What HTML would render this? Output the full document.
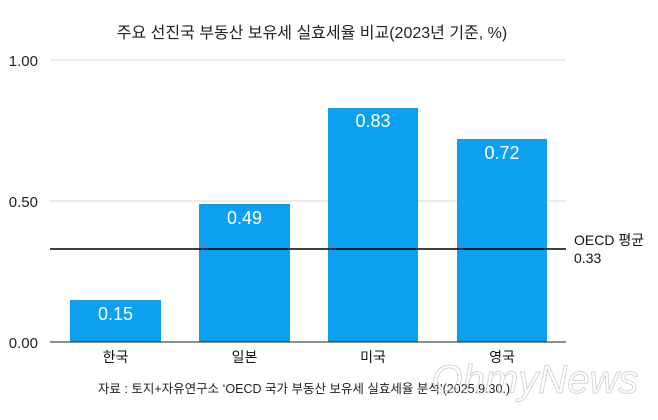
<!DOCTYPE html>
<html><head><meta charset="utf-8"><style>
body{margin:0;background:#fff;}
svg text{font-family:"Liberation Sans","Noto Sans CJK KR",sans-serif;}
</style></head><body>
<svg width="658" height="415" xmlns="http://www.w3.org/2000/svg">
<rect width="658" height="415" fill="#fff"/>
<text x="312" y="38" font-size="16" text-anchor="middle" fill="#222">주요 선진국 부동산 보유세 실효세율 비교(2023년 기준, %)</text>
<line x1="50" y1="60" x2="566" y2="60" stroke="#d8d8d8" stroke-width="1"/>
<line x1="50" y1="201" x2="566" y2="201" stroke="#d8d8d8" stroke-width="1"/>
<text x="38" y="66" font-size="15" text-anchor="end" fill="#222">1.00</text>
<text x="38" y="207" font-size="15" text-anchor="end" fill="#222">0.50</text>
<text x="38" y="348" font-size="15" text-anchor="end" fill="#222">0.00</text>
<g fill="#0d9ff0">
<rect x="70" y="300" width="91" height="42"/>
<rect x="199" y="204" width="91" height="138"/>
<rect x="328" y="108" width="90" height="234"/>
<rect x="457" y="139" width="90" height="203"/>
</g>
<g font-size="18" fill="#fff" text-anchor="middle">
<text x="115.5" y="320">0.15</text>
<text x="244.5" y="224">0.49</text>
<text x="373" y="127">0.83</text>
<text x="502" y="159">0.72</text>
</g>
<line x1="50" y1="249" x2="566" y2="249" stroke="#000" stroke-width="1.5"/>
<line x1="50" y1="342" x2="566" y2="342" stroke="#222" stroke-width="1"/>
<text x="574" y="245" font-size="14" fill="#111">OECD 평균</text>
<text x="574" y="263" font-size="14" fill="#111">0.33</text>
<g font-size="14" fill="#111" text-anchor="middle">
<text x="115.5" y="362">한국</text>
<text x="244.5" y="362">일본</text>
<text x="373" y="362">미국</text>
<text x="502" y="362">영국</text>
</g>
<text x="304" y="393" font-size="12.5" text-anchor="middle" fill="#222">자료 : 토지+자유연구소 ‘OECD 국가 부동산 보유세 실효세율 분석’(2025.9.30.)</text>
<text x="535" y="393" font-size="40" font-style="italic" font-family="Liberation Serif,serif" fill="none" stroke="#ccc" stroke-width="1" text-anchor="middle" opacity="0.8">OhmyNews</text>
</svg>
</body></html>
